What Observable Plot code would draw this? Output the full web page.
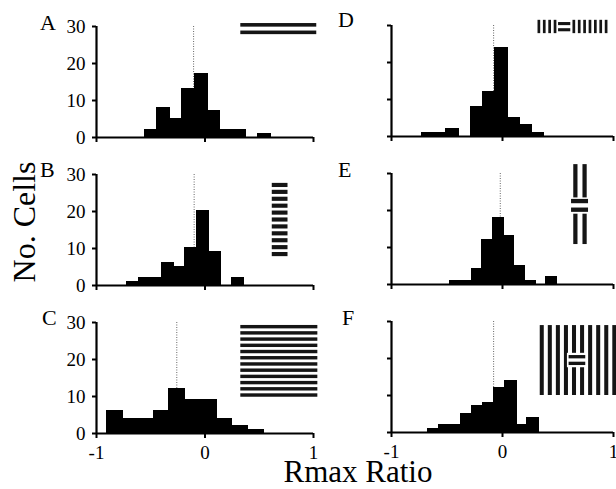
<!DOCTYPE html>
<html><head><meta charset="utf-8">
<script src="https://cdn.jsdelivr.net/npm/d3@7"></script>
<script src="https://cdn.jsdelivr.net/npm/@observablehq/plot@0.6"></script>
<style>
body{margin:0;background:#fff;}
#fig{position:relative;width:616px;height:489px;overflow:hidden;background:#fff;}
#fig > svg{position:absolute;}
</style></head><body><div id="fig"></div>
<script>
// ---- data ----
const panelIds = ["A", "B", "C", "D", "E", "F"];
const binStarts = [-0.554, -0.716, -0.905, -0.724, -0.468, -0.673];
const binWidths = [0.1157, 0.1076, 0.1445, 0.110, 0.0955, 0.100];
const countsA = [2, 8, 5, 13, 17, 7, 2, 2, 0, 1];
const countsB = [1, 2, 2, 6, 5, 10, 20, 9, 0, 2];
const countsC = [6, 4, 4, 6, 12, 9, 9, 4, 2, 1];
const countsD = [1, 1, 2, 0, 8, 12, 24, 5, 3, 1];
const countsE = [1, 1, 4, 12, 18, 13, 5, 1, 0, 2];
const countsF = [1, 2, 2, 5, 7, 8, 12, 14, 2, 4];
const medians = [-0.105, -0.10, -0.26, -0.08, -0.02, -0.08];
const xTicks = [-1, 0, 1];
const yTicks = [0, 10, 20, 30];
const xTitle = "Rmax Ratio";
const yTitle = "No. Cells";
const allCounts = [countsA, countsB, countsC, countsD, countsE, countsF];

// ---- icon geometry helpers (stimulus pictograms) ----
function hStripes(x1, x2, yTop, yBot, n, duty) {
  const p = (yTop - yBot) / (n - 1 + duty);
  return d3.range(n).map(k => ({x1, x2, y2: yTop - k * p, y1: yTop - k * p - duty * p, fill: "#151515"}));
}
function vStripes(x1, x2, yTop, yBot, n, duty) {
  const p = (x2 - x1) / (n - 1 + duty);
  return d3.range(n).map(k => ({x1: x1 + k * p, x2: x1 + k * p + duty * p, y1: yBot, y2: yTop, fill: "#151515"}));
}
function blank(x1, x2, y1, y2) { return [{x1, x2, y1, y2, fill: "white"}]; }
const icons = {
  A: () => hStripes(0.33, 1.03, 30.8, 27.8, 2, 0.48),
  B: () => hStripes(0.62, 0.765, 27.6, 7.8, 11, 0.6),
  C: () => hStripes(0.33, 1.04, 29.2, 9.8, 12, 0.55),
  D: () => [...vStripes(0.32, 0.49, 31.4, 27.8, 4, 0.5),
            ...hStripes(0.505, 0.615, 30.8, 28.3, 2, 0.5),
            ...vStripes(0.635, 0.95, 31.4, 27.8, 7, 0.5)],
  E: () => [...vStripes(0.642, 0.763, 32.4, 10.8, 2, 0.46),
            ...blank(0.615, 0.78, 19.0, 23.4),
            ...hStripes(0.622, 0.775, 23.0, 19.5, 2, 0.5)],
  F: () => [...vStripes(0.34, 1.03, 28.9, 10, 10, 0.5),
            ...blank(0.585, 0.765, 17.5, 21.4),
            ...hStripes(0.60, 0.75, 20.8, 18.1, 2, 0.5)]
};

const fig = document.getElementById("fig");
const font = '"Liberation Serif", "Times New Roman", serif';

panelIds.forEach((id, i) => {
  const col = i < 3 ? 0 : 1, row = i % 3;
  const bins = allCounts[i].map((c, k) => ({
    x1: binStarts[i] + k * binWidths[i],
    x2: binStarts[i] + (k + 1) * binWidths[i],
    count: c
  })).filter(b => b.count > 0);
  const mL = col === 0 ? 96 : 91;
  const pw = col === 0 ? 217 : 222;
  const mT = 12, mB = 34, ph = 111;
  const top30 = col === 0 ? [26, 174, 322][row] : [25, 173, 321][row];
  const bottom = row === 2;
  const svg = Plot.plot({
    width: mL + pw + 3,
    height: mT + ph + mB,
    marginLeft: mL, marginRight: 3, marginTop: mT, marginBottom: mB,
    x: {domain: [-1, 1]},
    y: {domain: [0, 30]},
    style: {background: "transparent", overflow: "visible", fontFamily: font, fontSize: "19px", color: "black"},
    marks: [
      Plot.ruleX([medians[i]], {y1: 0, y2: 30, stroke: "#666", strokeWidth: 1, strokeDasharray: "1,1.5"}),
      Plot.rectY(bins, {x1: "x1", x2: "x2", y: "count", fill: "black", stroke: "black", strokeWidth: 1.4,
                        shapeRendering: "crispEdges", inset: 0}),
      Plot.rect(icons[id](), {x1: "x1", x2: "x2", y1: "y1", y2: "y2", fill: "fill", clip: false}),
      Plot.ruleY([0], {x1: -1, x2: 1, stroke: "black", strokeWidth: 2.2}),
      Plot.ruleX([-1], {y1: 0, y2: 30, stroke: "black", strokeWidth: 2.2}),
      Plot.axisY({ticks: yTicks, tickSize: 4, tickPadding: 7, strokeWidth: 2, label: null,
                  tickFormat: col === 0 ? (d => String(d)) : (() => "")}),
      Plot.axisX({ticks: xTicks, tickSize: 5, tickPadding: 7, strokeWidth: 2, label: null,
                  tickFormat: bottom ? (d => String(d)) : (() => "")})
    ]
  });
  svg.style.left = (col === 0 ? 0 : 300) + "px";
  svg.style.top = (top30 - mT) + "px";
  fig.appendChild(svg);
});

// ---- text overlay: panel letters and axis titles ----
const letterPos = [[40, 30], [40, 177], [42, 325], [338, 27], [338, 177], [342, 325]];
const ov = d3.create("svg").attr("width", 616).attr("height", 489)
  .style("left", "0px").style("top", "0px").style("overflow", "visible")
  .attr("font-family", font);
ov.selectAll("text.l").data(panelIds).join("text").attr("class", "l")
  .attr("x", (d, i) => letterPos[i][0]).attr("y", (d, i) => letterPos[i][1])
  .attr("font-size", 22).text(d => d);
ov.append("text").attr("transform", "translate(35,222) rotate(-90)")
  .attr("text-anchor", "middle").attr("font-size", 32).text(yTitle);
ov.append("text").attr("x", 358).attr("y", 482)
  .attr("text-anchor", "middle").attr("font-size", 31).text(xTitle);
fig.appendChild(ov.node());
</script>
</body></html>
